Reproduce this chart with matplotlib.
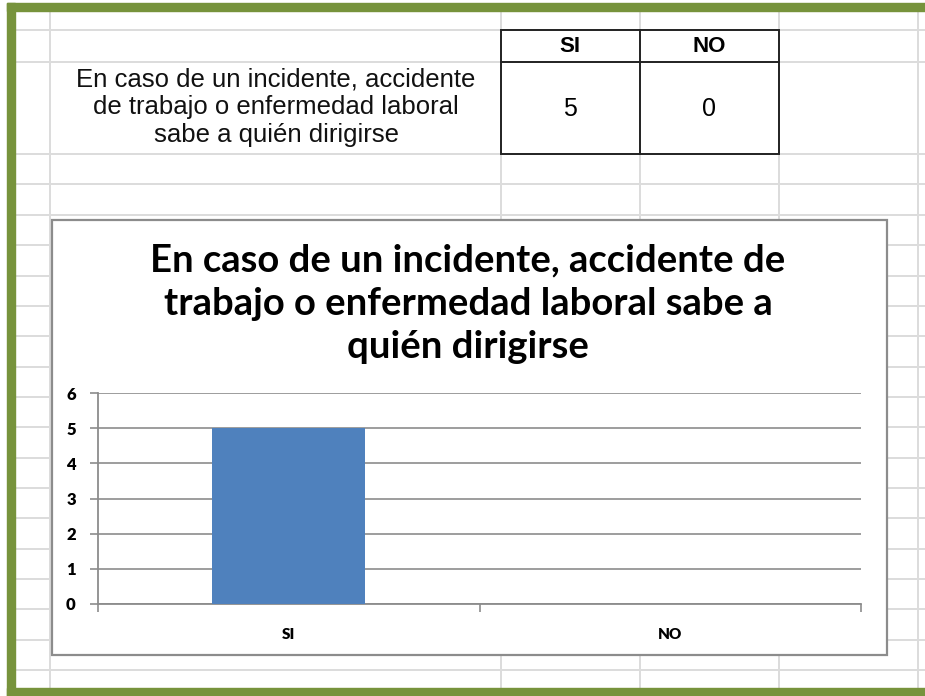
import numpy as np
import matplotlib
matplotlib.use("Agg")
import matplotlib.pyplot as plt
from matplotlib.patches import Rectangle

# datos de la encuesta
categories = ["SI", "NO"]
values = [5, 0]
question = "En caso de un incidente, accidente\nde trabajo o enfermedad laboral\nsabe a quién dirigirse"
chart_title = "En caso de un incidente, accidente de\ntrabajo o enfermedad laboral sabe a\nquién dirigirse"
y_ticks = [0, 1, 2, 3, 4, 5, 6]

W, H = 925, 696
fig = plt.figure(figsize=(W / 100, H / 100), dpi=100)
fig.patch.set_facecolor("white")

# fondo: hoja de calculo en coordenadas de pixel
bg = fig.add_axes([0, 0, 1, 1])
bg.set_xlim(0, W)
bg.set_ylim(H, 0)
bg.axis("off")

grid_c = "#dcdcdc"
col_lines = [50, 501, 640, 779, 918]
row_lines = [11, 30, 62, 154, 184] + list(215 + 30.33 * np.arange(16))
for x in col_lines:
    bg.plot([x, x], [11, H], color=grid_c, lw=1.4, zorder=1)
for y in row_lines:
    bg.plot([15, W], [y, y], color=grid_c, lw=1.4, zorder=1)

# borde verde
green = "#77933C"
bg.add_patch(Rectangle((7, 3), W - 7, 8, color=green, zorder=5))
bg.add_patch(Rectangle((7, 3), 8, H - 3, color=green, zorder=5))
bg.add_patch(Rectangle((7, 688), W - 7, 8, color=green, zorder=5))

# tabla
bg.add_patch(Rectangle((501, 30), 278, 124, fill=False, ec="#222222", lw=1.4, zorder=3))
bg.plot([640, 640], [30, 154], color="#222222", lw=1.4, zorder=3)
bg.plot([501, 779], [62, 62], color="#222222", lw=1.4, zorder=3)
cell_x = [570, 709]
for cx, cat, v in zip(cell_x, categories, values):
    bg.text(cx, 47, cat, ha="center", va="center", fontsize=16,
            fontweight="bold", family="Liberation Sans", zorder=4)
    bg.text(cx, 109, str(v), ha="center", va="center", fontsize=18,
            family="Liberation Sans", zorder=4)
bg.text(276, 107, question, ha="center", va="center", fontsize=18.5,
        family="Liberation Sans", linespacing=1.2, color="#111111", zorder=4)

# recuadro del grafico
bg.add_patch(Rectangle((52, 220), 835, 435, fc="white", ec="#8c8c8c", lw=1.6, zorder=2))
bg.text(468, 304, chart_title, ha="center", va="center", fontsize=27.5,
        fontweight="bold", family="Lato", linespacing=1.33, zorder=4)

# area de trazado
left, right, y0, y6 = 98, 861, 604, 393
ax = fig.add_axes([left / W, (H - y0) / H, (right - left) / W, (y0 - y6) / H], zorder=3)
ax.patch.set_alpha(0)
x = np.arange(len(categories))
ax.bar(x, values, width=0.4, color="#4F81BD", zorder=3)
ax.set_xlim(-0.5, len(categories) - 0.5)
ax.set_ylim(0, 6)
ax.set_yticks(y_ticks)
ax.yaxis.grid(True, color="#8c8c8c", lw=1.2)
ax.set_axisbelow(True)
for s in ["top", "right"]:
    ax.spines[s].set_visible(False)
ax.spines["left"].set_color("#8c8c8c")
ax.spines["bottom"].set_color("#8c8c8c")
ax.spines["left"].set_linewidth(1.3)
ax.spines["bottom"].set_linewidth(1.3)
ax.tick_params(axis="y", length=6, color="#8c8c8c", width=1.2, pad=10, labelsize=12)
for lab in ax.get_yticklabels():
    lab.set_fontweight("heavy")
    lab.set_family("Lato")
ax.set_xticks(x)
ax.set_xticklabels(categories, fontsize=11, fontweight="heavy", family="Lato")
ax.set_xticks(np.arange(len(categories) + 1) - 0.5, minor=True)
ax.tick_params(axis="x", which="major", length=0, pad=17)
ax.tick_params(axis="x", which="minor", length=6, color="#8c8c8c", width=1.2)

fig.savefig("out.png", dpi=100)
